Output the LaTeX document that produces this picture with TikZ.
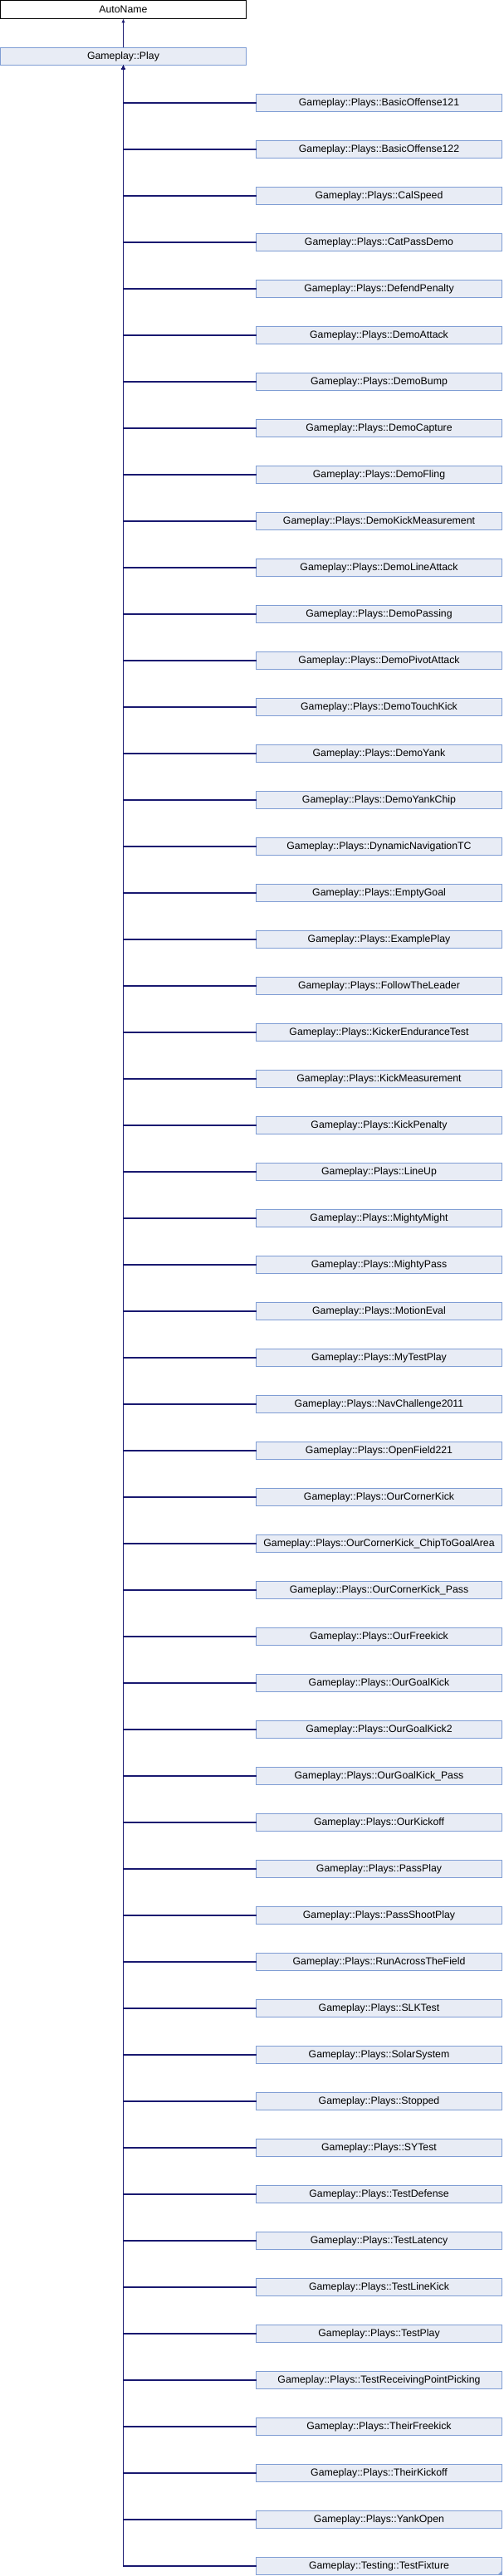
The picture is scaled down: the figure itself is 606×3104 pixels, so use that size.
\documentclass[tikz,border=0pt]{standalone}
\usepackage{fontspec}
\setmainfont{Liberation Sans}
\usetikzlibrary{arrows.meta}

\definecolor{boxfill}{HTML}{E8ECF5}
\definecolor{boxline}{HTML}{7F9DD4}
\definecolor{edgeblue}{HTML}{191970}

\begin{document}
\begin{tikzpicture}[
x = 1pt, y = -1pt,
every node/.style={font=\fontsize{12.3}{14}\selectfont, inner sep = 0pt, outer sep = 0pt},
base/.style={rectangle, draw=black, fill=white, line width = 1pt, minimum width = 296pt, minimum height = 22pt},
play/.style={rectangle, draw=boxline, fill=boxfill, line width = 1pt, minimum width = 296pt, minimum height = 21pt},
derived/.style={play},
edge/.style={-{Latex[length=5pt, width=4.5pt]}, edgeblue, line width = 1.1pt}]

\useasboundingbox (0,0) rectangle (606,3104);

\node[base] (autoname) at (148.5,11.5) {AutoName};
\node[play] (play) at (148.5,68) {Gameplay::Play};

\foreach \name [count=\i] in {
Plays::BasicOffense121, Plays::BasicOffense122, Plays::CalSpeed, Plays::CatPassDemo,
Plays::DefendPenalty, Plays::DemoAttack, Plays::DemoBump, Plays::DemoCapture,
Plays::DemoFling, Plays::DemoKickMeasurement, Plays::DemoLineAttack, Plays::DemoPassing,
Plays::DemoPivotAttack, Plays::DemoTouchKick, Plays::DemoYank, Plays::DemoYankChip,
Plays::DynamicNavigationTC, Plays::EmptyGoal, Plays::ExamplePlay, Plays::FollowTheLeader,
Plays::KickerEnduranceTest, Plays::KickMeasurement, Plays::KickPenalty, Plays::LineUp,
Plays::MightyMight, Plays::MightyPass, Plays::MotionEval, Plays::MyTestPlay,
Plays::NavChallenge2011, Plays::OpenField221, Plays::OurCornerKick,
Plays::OurCornerKick\_ChipToGoalArea, Plays::OurCornerKick\_Pass, Plays::OurFreekick,
Plays::OurGoalKick, Plays::OurGoalKick2, Plays::OurGoalKick\_Pass, Plays::OurKickoff,
Plays::PassPlay, Plays::PassShootPlay, Plays::RunAcrossTheField, Plays::SLKTest,
Plays::SolarSystem, Plays::Stopped, Plays::SYTest, Plays::TestDefense,
Plays::TestLatency, Plays::TestLineKick, Plays::TestPlay, Plays::TestReceivingPointPicking,
Plays::TheirFreekick, Plays::TheirKickoff, Plays::YankOpen, Testing::TestFixture}
\node[derived] (c\i) at (456.5,68+56*\i) {Gameplay::\name};

% folded corner of the last box
\fill[boxline] (c54.south east) -- ++(-5,0) -- ++(5,-5) -- cycle;

\draw[edge](play)--(autoname);
\foreach \i in {1,...,54}
\draw[edge](c\i.west) -| (play.south);
\end{tikzpicture}
\end{document}
